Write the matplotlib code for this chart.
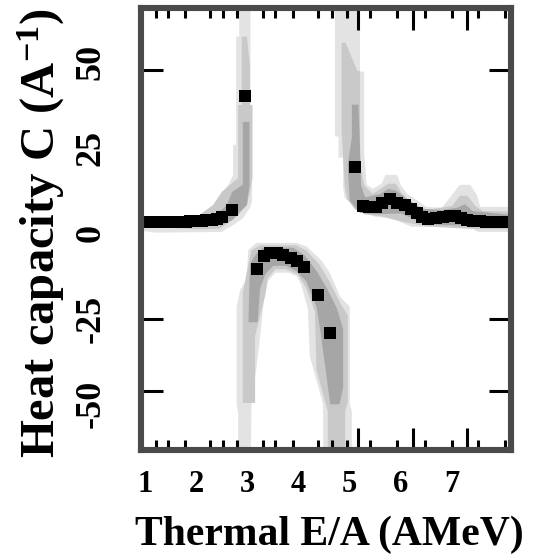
import matplotlib
matplotlib.use("Agg")
from matplotlib import pyplot as plt

# Heat capacity vs thermal excitation energy (two branches, one negative)

# --- data points (black squares) ---
upper_left_x = [1.00, 1.08, 1.16, 1.24, 1.32, 1.40, 1.48, 1.56, 1.64, 1.72, 1.80,
                1.88, 1.96, 2.04, 2.12, 2.20, 2.30, 2.40, 2.50, 2.69, 2.95]
upper_left_y = [3.2, 3.2, 3.2, 3.2, 3.3, 3.3, 3.3, 3.3, 3.4, 3.4, 3.4,
                3.5, 3.5, 3.6, 3.7, 3.8, 4.0, 4.3, 4.8, 6.9, 40.2]

upper_right_x = [5.10, 5.25, 5.38, 5.52, 5.63, 5.79, 5.93, 6.08, 6.20, 6.31, 6.42,
                 6.53, 6.68, 6.83, 6.95, 7.05, 7.17, 7.28, 7.41, 7.54, 7.67, 7.80,
                 7.92, 8.03]
upper_right_y = [19.4, 8.0, 7.6, 7.7, 8.8, 10.1, 9.0, 8.2, 7.0, 5.8, 4.8,
                 4.3, 4.6, 4.8, 5.0, 5.0, 4.5, 4.0, 3.7, 3.5, 3.4, 3.3,
                 3.3, 3.3]

lower_x = [3.18, 3.32, 3.45, 3.58, 3.70, 3.85, 3.97, 4.10, 4.38, 4.61]
lower_y = [-10.5, -6.5, -5.7, -5.8, -6.3, -7.3, -8.0, -9.8, -18.0, -29.2]

# --- uncertainty bands (outlines) ---
ul_light_x = [2.84, 3.06, 3.06, 3.09, 3.09, 3.05, 2.92, 2.73, 2.50, 1.20, 0.90, 0.90,
              2.20, 2.32, 2.44, 2.52, 2.63, 2.72, 2.72, 2.78, 2.78, 2.84]
ul_light_y = [70.0, 70.0, 31.0, 31.0, 9.2, 7.5, 4.5, 2.5, 0.4, 0.2, 0.8, 4.4,
              4.6, 6.3, 8.3, 12.1, 14.2, 17.0, 25.9, 25.9, 57.5, 57.5]
ul_mid_x = [2.89, 2.99, 3.05, 3.05, 3.10, 3.10, 3.05, 2.99, 2.82, 2.66, 2.45, 2.00,
            1.20, 0.90, 0.90, 2.07, 2.33, 2.50, 2.82, 2.82, 2.89]
ul_mid_y = [57.5, 57.5, 49.0, 37.5, 37.5, 16.2, 12.1, 8.3, 5.4, 3.4, 1.3, 1.2,
            1.8, 1.8, 4.2, 5.4, 8.3, 12.1, 16.2, 37.5, 37.5]
ul_dark_x = [2.91, 3.04, 3.04, 2.99, 2.86, 2.70, 2.45, 2.30, 2.46, 2.60, 2.70, 2.91]
ul_dark_y = [32.6, 32.6, 14.2, 8.3, 6.3, 3.8, 2.2, 4.8, 6.3, 8.3, 12.1, 14.2]

ur_light_x = [4.71, 5.20, 5.20, 5.28, 5.28, 5.33, 5.45, 5.62, 5.70, 5.92, 6.00, 6.12,
              6.30, 6.50, 6.80, 7.00, 7.15, 7.35, 7.48, 7.55, 8.20, 8.20, 7.50, 7.35,
              6.20, 5.98, 5.78, 5.50, 5.26, 5.06, 4.90, 4.87, 4.87, 4.78, 4.78, 4.71]
ur_light_y = [70.0, 70.0, 47.3, 47.3, 23.9, 14.2, 13.0, 14.5, 17.1, 17.1, 14.0, 11.5,
              9.8, 7.7, 7.5, 11.3, 14.2, 14.2, 11.3, 7.7, 7.7, 0.4, 0.4, 1.9,
              1.9, 3.4, 4.5, 4.8, 6.3, 8.3, 10.4, 13.3, 22.1, 22.1, 28.3, 28.3]
ur_mid_x = [4.84, 4.92, 5.04, 5.15, 5.20, 5.20, 5.28, 5.45, 5.65, 5.75, 5.90, 6.00,
            6.20, 6.50, 7.00, 7.15, 7.30, 7.45, 7.60, 8.20, 8.20, 7.50, 6.50, 6.00,
            5.60, 5.30, 5.10, 4.95, 4.90, 4.84]
ur_mid_y = [55.7, 55.7, 51.3, 47.5, 47.5, 20.0, 14.0, 11.5, 13.5, 14.5, 14.5, 12.0,
            9.0, 6.8, 8.0, 11.0, 11.0, 8.0, 6.5, 6.3, 1.2, 1.2, 2.0, 3.5,
            5.0, 5.5, 7.0, 10.0, 14.0, 30.0]
ur_dark_x = [5.04, 5.17, 5.20, 5.22, 5.30, 5.60, 5.75, 5.90, 6.10, 6.40, 6.80, 7.10,
             7.25, 7.40, 8.20, 8.20, 7.30, 6.50, 6.00, 5.50, 5.20, 5.00, 4.96, 5.04]
ur_dark_y = [37.6, 37.6, 25.0, 14.0, 10.5, 11.5, 13.0, 12.5, 10.2, 7.2, 6.8, 7.5,
             8.5, 6.5, 5.3, 1.8, 2.2, 2.6, 5.8, 5.6, 6.0, 9.5, 20.0, 28.0]

lo_light_x = [2.82, 2.82, 2.79, 2.79, 2.86, 2.98, 3.02, 3.18, 3.96, 4.16, 4.45, 4.61,
              4.81, 5.00, 5.00, 5.04, 5.04, 4.48, 4.48, 4.22, 4.18, 4.05, 3.97, 3.80,
              3.55, 3.40, 3.32, 3.25, 3.18, 3.08, 3.06]
lo_light_y = [-70.0, -52.6, -50.0, -21.5, -16.5, -13.6, -4.8, -2.8, -2.8, -3.9, -8.0, -11.6,
              -18.5, -21.5, -50.0, -52.0, -70.0, -70.0, -50.0, -36.0, -22.0, -15.0, -12.6, -11.5,
              -11.5, -14.0, -20.0, -30.0, -39.0, -50.0, -70.0]
lo_mid_x = [2.91, 2.91, 2.98, 3.08, 3.25, 3.95, 4.15, 4.40, 4.60, 4.80, 4.96, 4.96,
            4.91, 4.91, 4.57, 4.57, 4.35, 4.32, 4.15, 3.98, 3.75, 3.55, 3.40, 3.35,
            3.15, 3.15]
lo_mid_y = [-49.6, -17.4, -12.0, -5.0, -3.5, -3.5, -5.0, -9.0, -14.0, -20.0, -24.0, -49.6,
            -52.0, -70.0, -70.0, -52.0, -40.0, -23.0, -16.0, -12.0, -10.5, -10.5, -13.0, -18.0,
            -30.0, -49.6]
lo_dark_x = [3.02, 3.05, 3.15, 3.30, 3.90, 4.12, 4.35, 4.55, 4.75, 4.87, 4.87, 4.80,
             4.62, 4.42, 4.35, 4.15, 3.95, 3.75, 3.50, 3.35, 3.25, 3.20, 3.15]
lo_dark_y = [-26.0, -9.0, -6.5, -4.2, -4.2, -6.5, -11.0, -16.0, -22.0, -28.0, -45.0, -50.0,
             -50.0, -28.0, -21.5, -14.0, -11.0, -9.5, -9.5, -12.0, -16.0, -26.0, -26.0]

# --- axis ticks ---
x_labels = [1, 2, 3, 4, 5, 6, 7]
x_short_ticks = [1.215, 1.456, 1.781, 2.27, 2.53, 2.79, 3.31, 3.54, 3.90, 4.38,
                 4.65, 4.94, 5.39, 5.92, 6.47, 6.99, 7.51, 8.03]
x_long_ticks = [5.17, 6.24, 7.28]
y_labels = [-50, -25, 0, 25, 50]
y_tick_marks = [47.8, 25.0, -25.1, -46.2]

LIGHT, MID, DARK = "#e3e3e3", "#c9c9c9", "#a6a6a6"
FRAME = "#4a4a4a"

plt.rcParams["font.family"] = ["Liberation Serif", "DejaVu Serif"]
plt.rcParams["font.weight"] = "bold"
plt.rcParams["axes.labelweight"] = "bold"
plt.rcParams["mathtext.fontset"] = "custom"
plt.rcParams["mathtext.rm"] = "Liberation Serif:bold"
plt.rcParams["mathtext.default"] = "rm"

fig = plt.figure(figsize=(5.43, 5.56), dpi=100)
ax = fig.add_axes([0.2597, 0.1898, 0.6805, 0.7959])

for bx, by, col in [(ul_light_x, ul_light_y, LIGHT), (ur_light_x, ur_light_y, LIGHT),
                    (lo_light_x, lo_light_y, LIGHT),
                    (ul_mid_x, ul_mid_y, MID), (ur_mid_x, ur_mid_y, MID),
                    (lo_mid_x, lo_mid_y, MID),
                    (ul_dark_x, ul_dark_y, DARK), (ur_dark_x, ur_dark_y, DARK),
                    (lo_dark_x, lo_dark_y, DARK)]:
    ax.fill(bx, by, color=col, lw=0, zorder=1)

for px, py in [(upper_left_x, upper_left_y), (upper_right_x, upper_right_y), (lower_x, lower_y)]:
    ax.plot(px, py, "s", color="black", ms=8.5, mew=0, zorder=3)

ax.set_xlim(0.922, 8.14)
ax.set_ylim(-63.5, 65.9)

for s in ax.spines.values():
    s.set_color(FRAME)
    s.set_linewidth(4.4)
    s.set_zorder(5)

# labels without marks; marks placed where the original has them
ax.set_xticks(x_labels)
ax.set_xticklabels([str(v) for v in x_labels])
minor_locs = sorted(x_short_ticks + x_long_ticks)
ax.set_xticks(minor_locs, minor=True)
ax.set_yticks(y_labels)
ax.set_yticklabels([str(v) for v in y_labels], rotation=90, va="center")
ax.set_yticks(y_tick_marks, minor=True)

ax.tick_params(which="major", length=0, labelsize=22, pad=14)
ax.tick_params(axis="y", which="major", labelsize=26, pad=24)
ax.tick_params(which="minor", direction="in", top=True, right=True,
               width=2.2, color="black")
ax.tick_params(axis="x", which="minor", length=7)
ax.tick_params(axis="y", which="minor", length=16)

for loc, t in zip(minor_locs, ax.xaxis.get_minor_ticks()):
    if loc in x_long_ticks:
        t.tick1line.set_markersize(16)
        t.tick2line.set_markersize(16)

ax.set_xlabel("Thermal E/A (AMeV)", fontsize=30, va="baseline")
ax.xaxis.set_label_coords(0.51, -0.214)
ax.set_ylabel("Heat capacity C (A$^{-1}$)", fontsize=35, va="baseline")
ax.yaxis.set_label_coords(-0.233, 0.4915)

fig.savefig("out.png", dpi=100)
